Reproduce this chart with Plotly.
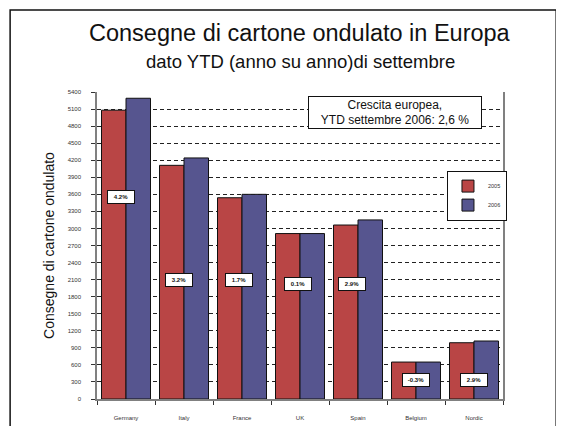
import plotly.graph_objects as go

categories = ["Germany", "Italy", "France", "UK", "Spain", "Belgium", "Nordic"]
values_2005 = [5080, 4110, 3540, 2910, 3060, 650, 990]
values_2006 = [5290, 4240, 3600, 2910, 3150, 650, 1020]
growth_labels = ["4.2%", "3.2%", "1.7%", "0.1%", "2.9%", "-0.3%", "2.9%"]
label_y = [3560, 2090, 2090, 2020, 2020, 330, 330]
label_xshift = [-5, -5, -3, -2, -6, 0, 0]
y_ticks = list(range(0, 5401, 300))

FONT = "Liberation Sans, Arial, Helvetica, sans-serif"

fig = go.Figure()
fig.add_trace(go.Bar(name="2005", x=categories, y=values_2005,
                     marker=dict(color="#b94545", line=dict(color="#111", width=1))))
fig.add_trace(go.Bar(name="2006", x=categories, y=values_2006,
                     marker=dict(color="#56558f", line=dict(color="#111", width=1))))

annotations = []
for c, t, yv, xs in zip(categories, growth_labels, label_y, label_xshift):
    annotations.append(dict(x=c, y=yv, xref="x", yref="y", text="<b>" + t + "</b>",
                            showarrow=False, xshift=xs, font=dict(size=6, color="#111", family=FONT),
                            bgcolor="white", bordercolor="#111", borderwidth=1,
                            width=22, height=8, borderpad=2))

annotations.append(dict(x=0.735, y=0.933, xref="paper", yref="paper",
                        xanchor="center", yanchor="middle",
                        text="Crescita europea,<br>YTD settembre 2006: 2,6 %",
                        showarrow=False, font=dict(size=12, color="#111", family=FONT),
                        bgcolor="white", bordercolor="#111", borderwidth=1,
                        width=170, height=29, borderpad=1))
annotations.append(dict(x=0.5, y=1.192, xref="paper", yref="paper",
                        text="Consegne di cartone ondulato in Europa", showarrow=False,
                        xanchor="center", yanchor="middle",
                        font=dict(size=23.5, color="#111", family=FONT)))
annotations.append(dict(x=0.5, y=1.098, xref="paper", yref="paper",
                        text="dato YTD (anno su anno)di settembre", showarrow=False,
                        xanchor="center", yanchor="middle",
                        font=dict(size=18.5, color="#111", family=FONT)))

fig.update_layout(
    width=556, height=418,
    margin=dict(l=89, r=61, t=84, b=27),
    paper_bgcolor="white", plot_bgcolor="white",
    barmode="group", bargap=0.155, bargroupgap=0,
    font=dict(family=FONT, color="#111"),
    showlegend=True,
    legend=dict(x=0.862, y=0.744, xanchor="left", yanchor="top",
                bgcolor="white", bordercolor="#111", borderwidth=1,
                font=dict(size=5.5, family=FONT, color="#333"),
                itemwidth=30, tracegroupgap=0),
    xaxis=dict(showline=True, linecolor="#808080", linewidth=1.5, automargin=False,
               ticks="outside", tickson="boundaries", ticklen=4, tickcolor="#333",
               ticklabelstandoff=12,
               tickfont=dict(size=6, family=FONT, color="#333"),
               showgrid=False),
    yaxis=dict(range=[0, 5400], tickvals=y_ticks, showline=True, mirror=True,
               linecolor="#808080", linewidth=1.5, automargin=False,
               ticks="outside", ticklen=4, tickcolor="#333",
               ticklabelstandoff=9,
               tickfont=dict(size=6, family=FONT, color="#333"),
               showgrid=True, gridcolor="#222", griddash="4px,3px", gridwidth=1,
               zeroline=False,
               title=dict(text="Consegne di cartone ondulato", standoff=10,
                          font=dict(size=14, family=FONT, color="#111"))),
    annotations=annotations,
    shapes=[dict(type="rect", xref="paper", yref="paper",
                 x0=-0.214, x1=1.131, y0=-0.3, y1=1.267,
                 line=dict(color="#111", width=1.5), fillcolor="rgba(0,0,0,0)", layer="above")],
)

fig.write_html("out.html")
